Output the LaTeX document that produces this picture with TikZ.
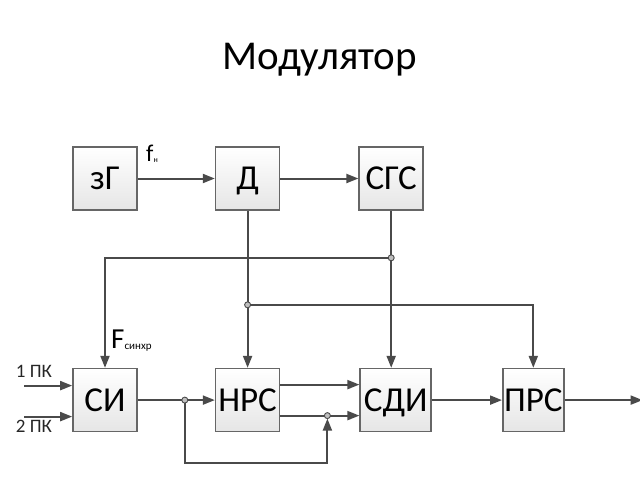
\documentclass[tikz,border=0pt]{standalone}
\usepackage{fontspec}
\setmainfont{Carlito}
\usepackage{tikz}
\usetikzlibrary{positioning, calc, arrows.meta}

\definecolor{lineGray}{HTML}{4A4A4A}
\definecolor{boxGray}{HTML}{666666}

\begin{document}
\begin{tikzpicture}[
        blok/.style={rectangle, draw=boxGray, line width=1.6pt, top color=white, bottom color=black!10,
                minimum width=64pt, minimum height=63pt, inner sep=0pt, text height=22pt, text depth=0pt,
                font=\fontsize{35pt}{35pt}\selectfont},
        wire/.style={draw=lineGray, line width=2pt},
        arr/.style={wire, -{Triangle[length=12pt, width=9pt]}, color=lineGray},
        junc/.style={circle, draw=lineGray, fill=black!25, line width=0.9pt, inner sep=0pt, minimum size=6pt},
        lbl/.style={inner sep=0pt, anchor=base, font=\fontsize{19pt}{19pt}\selectfont, text=black!85}]
        \useasboundingbox (0,0) rectangle (640pt,-480pt);

        % Title
        \node (title) at (320pt,-60pt) {\fontsize{41pt}{41pt}\selectfont Модулятор};

        % Nodes
        \node[blok] (zg) at (105pt,-178.5pt) {зГ};
        \node[blok] (d) [right=77pt of zg] {Д};
        \node[blok] (sgs) [right=78pt of d] {СГС};
        \node[blok] (si) [below=157pt of zg] {СИ};
        \node[blok] (nrs) [below=157pt of d] {НРС};
        \node[blok, minimum width=71pt] (sdi) [right=79pt of nrs] {СДИ};
        \node[blok, minimum width=61pt] (prs) [right=70pt of sdi] {ПРС};

        % Branch points and free ends
        \coordinate (j1) at ($(sgs.south)+(0,-47pt)$);
        \coordinate (j2) at ($(d.south)+(0,-94pt)$);
        \coordinate (j3) at ($(si.east)+(47pt,0)$);
        \coordinate (j4) at ($(nrs.east)+(47pt,-15.5pt)$);
        \coordinate (in1) at ($(si.west)+(-48pt,14.5pt)$);
        \coordinate (in2) at ($(si.west)+(-48pt,-16.5pt)$);
        \coordinate (out) at ($(prs.east)+(78pt,0)$);

        % Edges
        \draw[arr] (zg) -- (d);
        \draw[arr] (d) -- (sgs);
        \draw[arr] (d.south) -- (nrs.north);
        \draw[arr] (sgs.south) -- (sgs.south |- sdi.north);
        \draw[arr] (j1) -| (si.north);
        \draw[arr] (j2) -| (prs.north);
        \draw[arr] (in1) -- (in1 -| si.west);
        \draw[arr] (in2) -- (in2 -| si.west);
        \draw[arr] (si) -- (nrs);
        \draw[arr] ($(nrs.east)+(0,15.5pt)$) -- ($(sdi.west)+(0,15.5pt)$);
        \draw[arr] ($(nrs.east)+(0,-15.5pt)$) -- ($(sdi.west)+(0,-15.5pt)$);
        \draw[arr] (j3) -- ++(0,-63pt) -| ($(j4)+(0,-3pt)$);
        \draw[arr] (sdi) -- (prs);
        \draw[arr] (prs) -- (out);

        % Junction dots
        \foreach \j in {j1, j2, j3, j4} {
                \node[junc] at (\j) {};
        }

        % Labels
        \node[lbl] (l1) at (34pt,-377pt) {1 ПК};
        \node[lbl] (l2) at (34pt,-432pt) {2 ПК};
        \node[inner sep=0pt, anchor=base west] (fn) at (146pt,-161pt) {\fontsize{24pt}{24pt}\selectfont f\raisebox{-1pt}{\fontsize{8pt}{8pt}\selectfont н}};
        \node[inner sep=0pt, anchor=base west] (fs) at (111pt,-348pt) {\fontsize{29pt}{29pt}\selectfont F\raisebox{-1pt}{\fontsize{11pt}{11pt}\selectfont синхр}};
\end{tikzpicture}
\end{document}
